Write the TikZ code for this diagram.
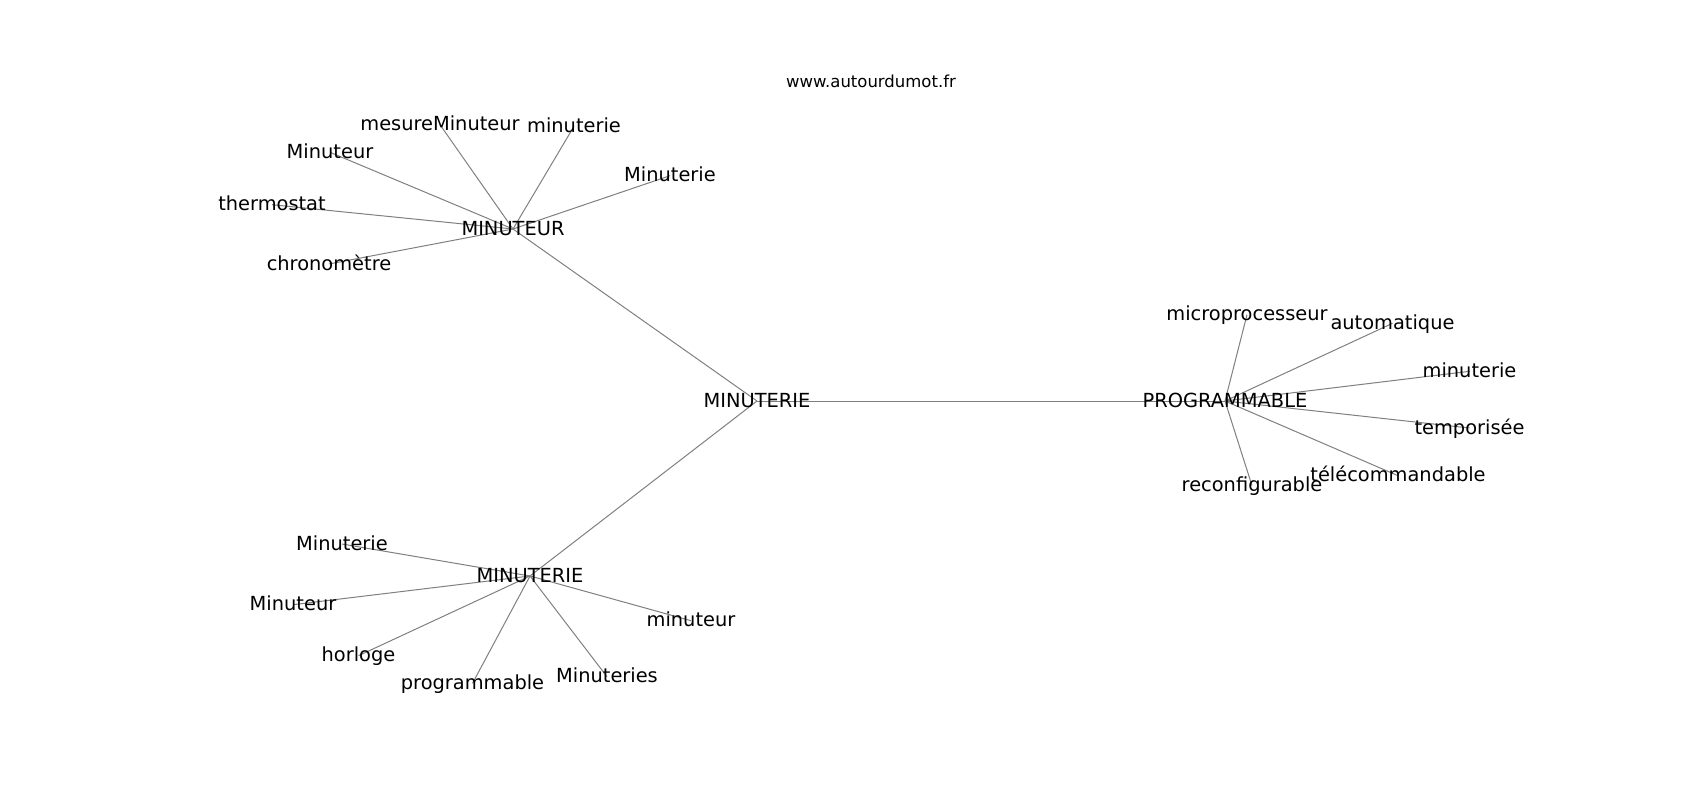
\documentclass[tikz,border=0pt]{standalone}
\usepackage{fontspec}
\setmainfont{DejaVu Sans}
\definecolor{edgegray}{RGB}{128,128,128}
\begin{document}
\begin{tikzpicture}[x=1pt,y=-1pt,
  lbl/.style={inner sep=0pt,outer sep=0pt,text height=12pt,text depth=0pt,anchor=center,font=\fontsize{19.4}{23}\selectfont},
  ttl/.style={inner sep=0pt,outer sep=0pt,text height=12pt,text depth=0pt,anchor=center,font=\fontsize{16.5}{20}\selectfont},
  edge/.style={draw=edgegray,line width=1pt}]
\useasboundingbox (0,0) rectangle (1700,800);
\fill[white] (0,0) rectangle (1700,800);
% edges first (under labels)
\path
 coordinate (cMain) at (757,401)
 coordinate (cProg) at (1225,401)
 coordinate (cMtr) at (513,229)
 coordinate (cMie) at (530,576)
 coordinate (cA1) at (440,124.7)
 coordinate (cA2) at (574,126.3)
 coordinate (cA3) at (330,152.3)
 coordinate (cA4) at (272,204.7)
 coordinate (cA5) at (329,264)
 coordinate (cA6) at (670,175.7)
 coordinate (cB1) at (1247,314.7)
 coordinate (cB2) at (1392.5,323.3)
 coordinate (cB3) at (1469.5,371.3)
 coordinate (cB4) at (1469.5,428)
 coordinate (cB5) at (1398,475.7)
 coordinate (cB6) at (1252,485.7)
 coordinate (cC1) at (342,544)
 coordinate (cC2) at (293,604.7)
 coordinate (cC3) at (691,620.7)
 coordinate (cC4) at (358.5,655.7)
 coordinate (cC5) at (472.5,683.3)
 coordinate (cC6) at (607,676.7);
\foreach \a/\b in {cMain/cProg,cMain/cMtr,cMain/cMie,
  cMtr/cA1,cMtr/cA2,cMtr/cA3,cMtr/cA4,cMtr/cA5,cMtr/cA6,
  cProg/cB1,cProg/cB2,cProg/cB3,cProg/cB4,cProg/cB5,cProg/cB6,
  cMie/cC1,cMie/cC2,cMie/cC3,cMie/cC4,cMie/cC5,cMie/cC6}
  \draw[edge] (\a) -- (\b);
% labels
\node[ttl] (title) at (871,81.7) {www.autourdumot.fr};
\node[lbl] (main) at (cMain) {MINUTERIE};
\node[lbl] (prog) at (cProg) {PROGRAMMABLE};
\node[lbl] (mtr) at (cMtr) {MINUTEUR};
\node[lbl] (mie) at (cMie) {MINUTERIE};
\node[lbl] (a1) at (cA1) {mesureMinuteur};
\node[lbl] (a2) at (cA2) {minuterie};
\node[lbl] (a3) at (cA3) {Minuteur};
\node[lbl] (a4) at (cA4) {thermostat};
\node[lbl] (a5) at (cA5) {chronomètre};
\node[lbl] (a6) at (cA6) {Minuterie};
\node[lbl] (b1) at (cB1) {microprocesseur};
\node[lbl] (b2) at (cB2) {automatique};
\node[lbl] (b3) at (cB3) {minuterie};
\node[lbl] (b4) at (cB4) {temporisée};
\node[lbl] (b5) at (cB5) {télécommandable};
\node[lbl] (b6) at (cB6) {reconfigurable};
\node[lbl] (c1) at (cC1) {Minuterie};
\node[lbl] (c2) at (cC2) {Minuteur};
\node[lbl] (c3) at (cC3) {minuteur};
\node[lbl] (c4) at (cC4) {horloge};
\node[lbl] (c5) at (cC5) {programmable};
\node[lbl] (c6) at (cC6) {Minuteries};
\end{tikzpicture}
\end{document}
